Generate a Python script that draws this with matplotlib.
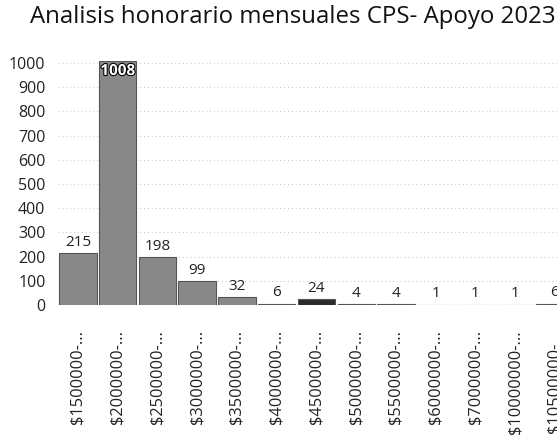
import matplotlib
matplotlib.use("Agg")
import matplotlib.pyplot as plt
import matplotlib.patheffects as pe

# datos
rangos = ["$1500000-...", "$2000000-...", "$2500000-...", "$3000000-...",
          "$3500000-...", "$4000000-...", "$4500000-...", "$5000000-...",
          "$5500000-...", "$6000000-...", "$7000000-...", "$10000000-...",
          "$10500000-..."]
cantidad = [215, 1008, 198, 99, 32, 6, 24, 4, 4, 1, 1, 1, 6]
yticks = [0, 100, 200, 300, 400, 500, 600, 700, 800, 900, 1000]

plt.rcParams['font.family'] = ['Open Sans', 'DejaVu Sans']

fig = plt.figure(figsize=(5.57, 4.36), dpi=100)
ax = fig.add_axes([0.1041, 0.3005, 0.928, 0.5605])

colores = ['#888888'] * len(cantidad)
colores[6] = '#2a2a2a'
x = list(range(len(cantidad)))
barras = ax.bar(x, cantidad, width=0.94, color=colores, edgecolor='#555555',
                linewidth=0.8, zorder=2)

for xi, v in zip(x, cantidad):
    if v > 900:
        ax.text(xi, v - 12, str(v), ha='center', va='top', fontsize=11,
                fontweight='bold', color='white',
                path_effects=[pe.withStroke(linewidth=1.5, foreground='black')])
    else:
        ax.text(xi, v + 14, str(v), ha='center', va='bottom', fontsize=11,
                color='#222222')

ax.set_xlim(-0.5, len(cantidad) - 0.5)
ax.set_ylim(0, 1010)
ax.set_yticks(yticks)
ax.set_xticks(x)
ax.set_xticklabels(rangos, rotation=90, fontsize=11.8, color='#222222')
ax.tick_params(axis='y', length=0, pad=9, labelsize=11.5, labelcolor='#222222')
ax.tick_params(axis='x', length=0, pad=18)
ax.grid(axis='y', color='#c4c4c4', linestyle=(0, (1, 3)), linewidth=0.7, zorder=0)
for s in ax.spines.values():
    s.set_visible(False)

fig.text(0.054, 0.96, "Analisis honorario mensuales CPS- Apoyo 2023",
         fontsize=17.3, color='#111111', ha='left', va='center')

fig.savefig("out.png", dpi=100)
